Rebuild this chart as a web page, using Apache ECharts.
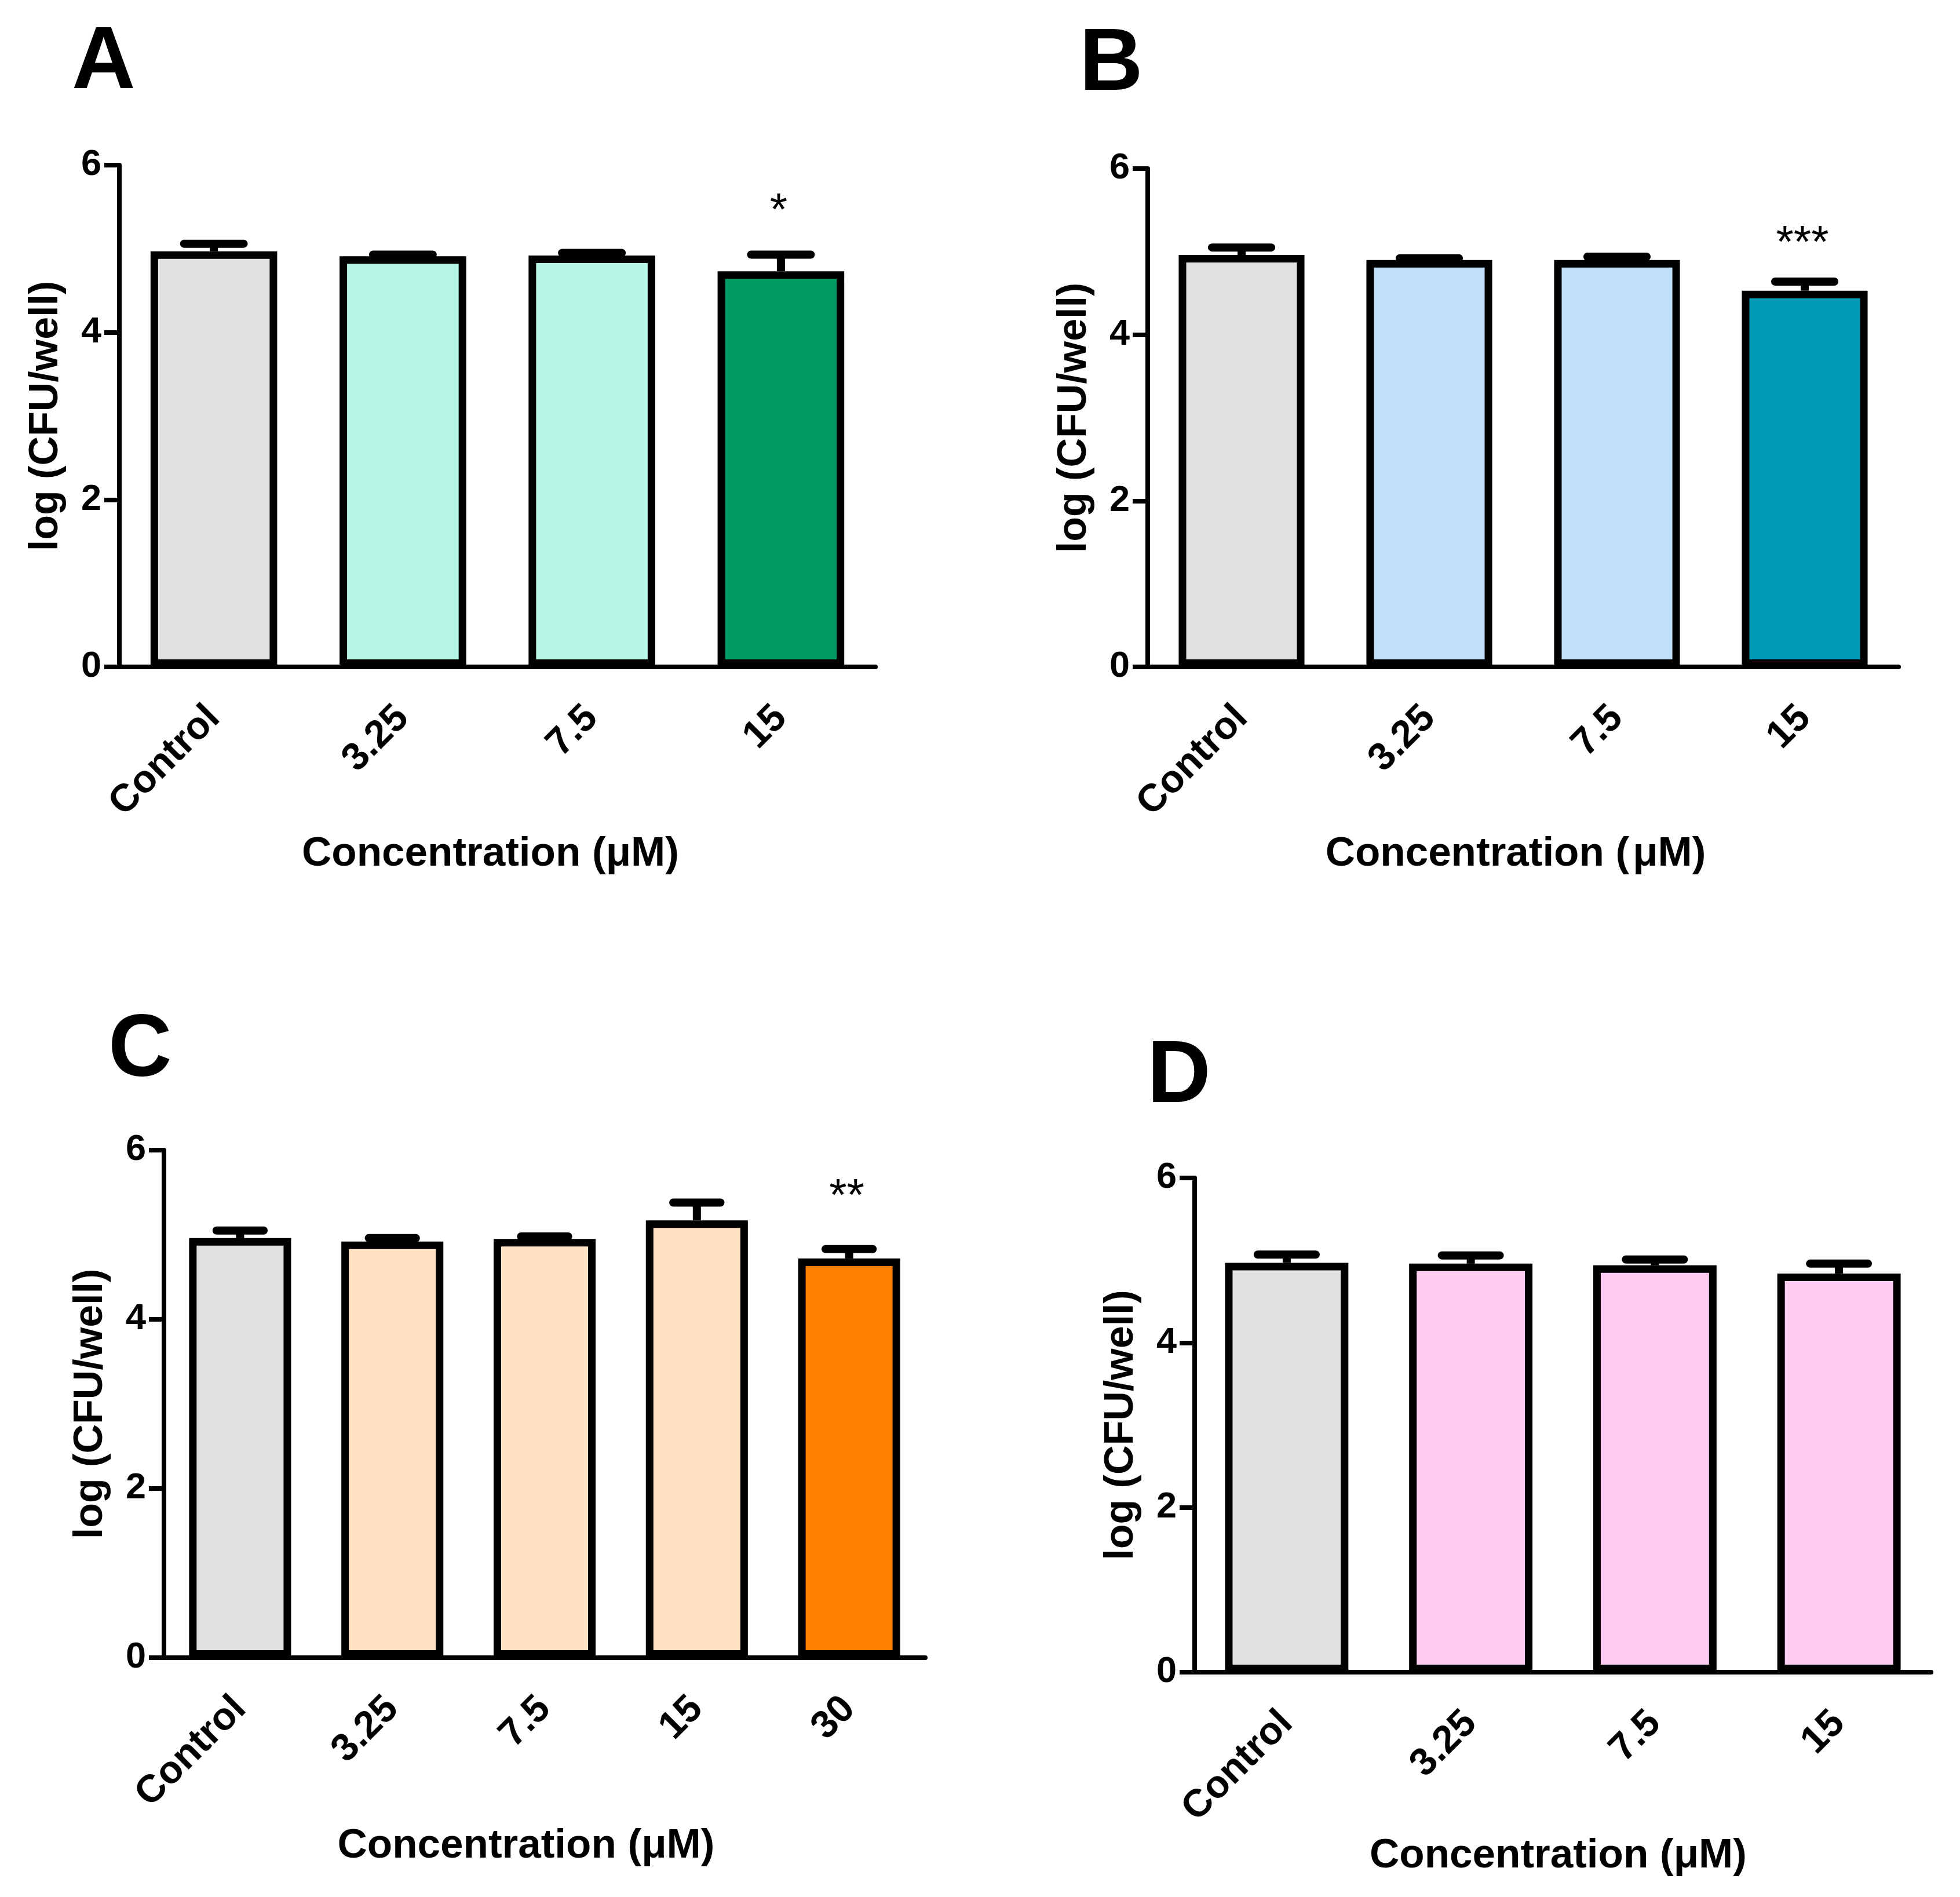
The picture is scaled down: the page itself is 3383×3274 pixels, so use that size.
<!DOCTYPE html>
<html>
<head>
    <meta charset="utf-8">
    <script src="https://cdn.jsdelivr.net/npm/echarts@6/dist/echarts.min.js"></script>
    <style>
        body { margin: 0; background: #fff; }
        #main { width: 3383px; height: 3274px; }
    </style>
</head>
<body>
<div id="main"></div>

<script type="text/javascript">
    // data
    var catsA = ['Control', '3.25', '7.5', '15'];
    var meanA = [4.97, 4.91, 4.92, 4.73];
    var errA = [0.09, 0.02, 0.03, 0.20];
    var sigA = ['', '', '', '*'];

    var catsB = ['Control', '3.25', '7.5', '15'];
    var meanB = [4.96, 4.90, 4.90, 4.53];
    var errB = [0.09, 0.02, 0.04, 0.11];
    var sigB = ['', '', '', '***'];

    var catsC = ['Control', '3.25', '7.5', '15', '30'];
    var meanC = [4.96, 4.92, 4.95, 5.17, 4.72];
    var errC = [0.09, 0.04, 0.03, 0.21, 0.11];
    var sigC = ['', '', '', '', '**'];

    var catsD = ['Control', '3.25', '7.5', '15'];
    var meanD = [4.97, 4.96, 4.94, 4.84];
    var errD = [0.10, 0.10, 0.07, 0.12];
    var sigD = ['', '', '', ''];

    var yTicks = [0, 2, 4, 6];

    var colorsA = ['#e0e0e0', '#b8f7e6', '#b8f7e6', '#009b62'];
    var colorsB = ['#e0e0e0', '#c1dff9', '#c1dff9', '#009cb5'];
    var colorsC = ['#e0e0e0', '#ffe2c2', '#ffe2c2', '#ffe2c2', '#ff8000'];
    var colorsD = ['#e0e0e0', '#ffccf1', '#ffccf1', '#ffccf1'];

    var FONT = '"Liberation Sans", Arial, sans-serif';

    var myChart = echarts.init(document.getElementById('main'));

    // layout per panel (grid = axis lines), title shift and star offset
    var panels = [
        {cats: catsA, mean: meanA, err: errA, sig: sigA, colors: colorsA,
            title: 'Concentration (\u03bcM)', titlePad: [0, 24, 0, 0], titleGap: 288, starGap: 73,
            grid: {left: 206, top: 285, width: 1305, height: 866}},
        {cats: catsB, mean: meanB, err: errB, sig: sigB, colors: colorsB,
            title: 'Concentration (\u200a\u03bcM)', titlePad: [0, 26, 0, 0], titleGap: 288, starGap: 63,
            grid: {left: 1981, top: 291, width: 1296, height: 860}},
        {cats: catsC, mean: meanC, err: errC, sig: sigC, colors: colorsC,
            title: 'Concentration (\u03bcM)', titlePad: [0, 64, 0, 0], titleGap: 290, starGap: 88,
            grid: {left: 283, top: 1985, width: 1314, height: 876}},
        {cats: catsD, mean: meanD, err: errD, sig: sigD, colors: colorsD,
            title: 'Concentration (\u03bcM)', titlePad: [0, 16, 0, 0], titleGap: 282, starGap: 73,
            grid: {left: 2062, top: 2033, width: 1271, height: 853}}
    ];

    // upper error bar + significance stars
    function makeErr(sig, starGap) {
        return function (params, api) {
            var i = api.value(0);
            var m = api.value(1);
            var e = api.value(2);
            var base = api.coord([i, m]);
            var hi = api.coord([i, m + e]);
            var band = api.size([1, 0])[0];
            var half = band * 0.17 - 4;
            var kids = [
                {type: 'line', shape: {x1: base[0], y1: base[1], x2: hi[0], y2: hi[1]},
                    style: {stroke: '#000', lineWidth: 14}},
                {type: 'line', shape: {x1: hi[0] - half, y1: hi[1], x2: hi[0] + half, y2: hi[1]},
                    style: {stroke: '#000', lineWidth: 14, lineCap: 'round'}}
            ];
            var s = sig[params.dataIndex];
            if (s) {
                kids.push({type: 'text', x: hi[0] - 4, y: hi[1] - starGap,
                    style: {text: s, fill: '#000', align: 'center', verticalAlign: 'middle',
                        font: 'normal 78px ' + FONT}});
            }
            return {type: 'group', children: kids};
        };
    }

    var grids = [], xAxes = [], yAxes = [], series = [];
    panels.forEach(function (p, k) {
        grids.push(p.grid);
        xAxes.push({
            type: 'category', gridIndex: k, data: p.cats,
            name: p.title, nameLocation: 'middle', nameGap: p.titleGap,
            nameTextStyle: {fontSize: 71, fontWeight: 'bold', fontFamily: FONT, color: '#000', padding: p.titlePad},
            axisLine: {lineStyle: {color: '#000', width: 8}},
            axisTick: {alignWithLabel: true, length: 28, lineStyle: {color: '#000', width: 7}},
            axisLabel: {rotate: 45, interval: 0, margin: 78, fontSize: 67, fontWeight: 'bold',
                fontFamily: FONT, color: '#000'}
        });
        yAxes.push({
            type: 'value', gridIndex: k, min: yTicks[0], max: yTicks[yTicks.length - 1], interval: 2,
            name: 'log (CFU/well)', nameLocation: 'middle', nameGap: 91,
            nameTextStyle: {fontSize: 70, fontWeight: 'bold', fontFamily: FONT, color: '#000'},
            splitLine: {show: false},
            axisLine: {show: true, lineStyle: {color: '#000', width: 8}},
            axisTick: {show: true, length: 26, lineStyle: {color: '#000', width: 8}},
            axisLabel: {margin: 31, fontSize: 63, fontWeight: 'bold', fontFamily: FONT, color: '#000'}
        });
        series.push({
            type: 'bar', xAxisIndex: k, yAxisIndex: k, barCategoryGap: '33%',
            data: p.mean.map(function (v, i) {
                return {value: v, itemStyle: {color: p.colors[i]}};
            }),
            itemStyle: {borderColor: '#000', borderWidth: 13},
            silent: true, animation: false
        });
        series.push({
            type: 'custom', xAxisIndex: k, yAxisIndex: k, z: 5,
            renderItem: makeErr(p.sig, p.starGap),
            data: p.mean.map(function (v, i) { return [i, v, p.err[i]]; }),
            animation: false, silent: true
        });
    });

    // panel letters: x = left of glyph box, y = middle of capitals
    var letters = [
        {t: 'A', x: 124, y: 110},
        {t: 'B', x: 1863, y: 113},
        {t: 'C', x: 187, y: 1815},
        {t: 'D', x: 1980, y: 1860}
    ];

    myChart.setOption({
        backgroundColor: '#fff',
        animation: false,
        grid: grids,
        xAxis: xAxes,
        yAxis: yAxes,
        series: series,
        graphic: letters.map(function (l) {
            return {type: 'text', x: l.x, y: l.y,
                style: {text: l.t, font: 'bold 152px ' + FONT, fill: '#000', align: 'left', verticalAlign: 'middle'}};
        })
    });
</script>
</body>
</html>
